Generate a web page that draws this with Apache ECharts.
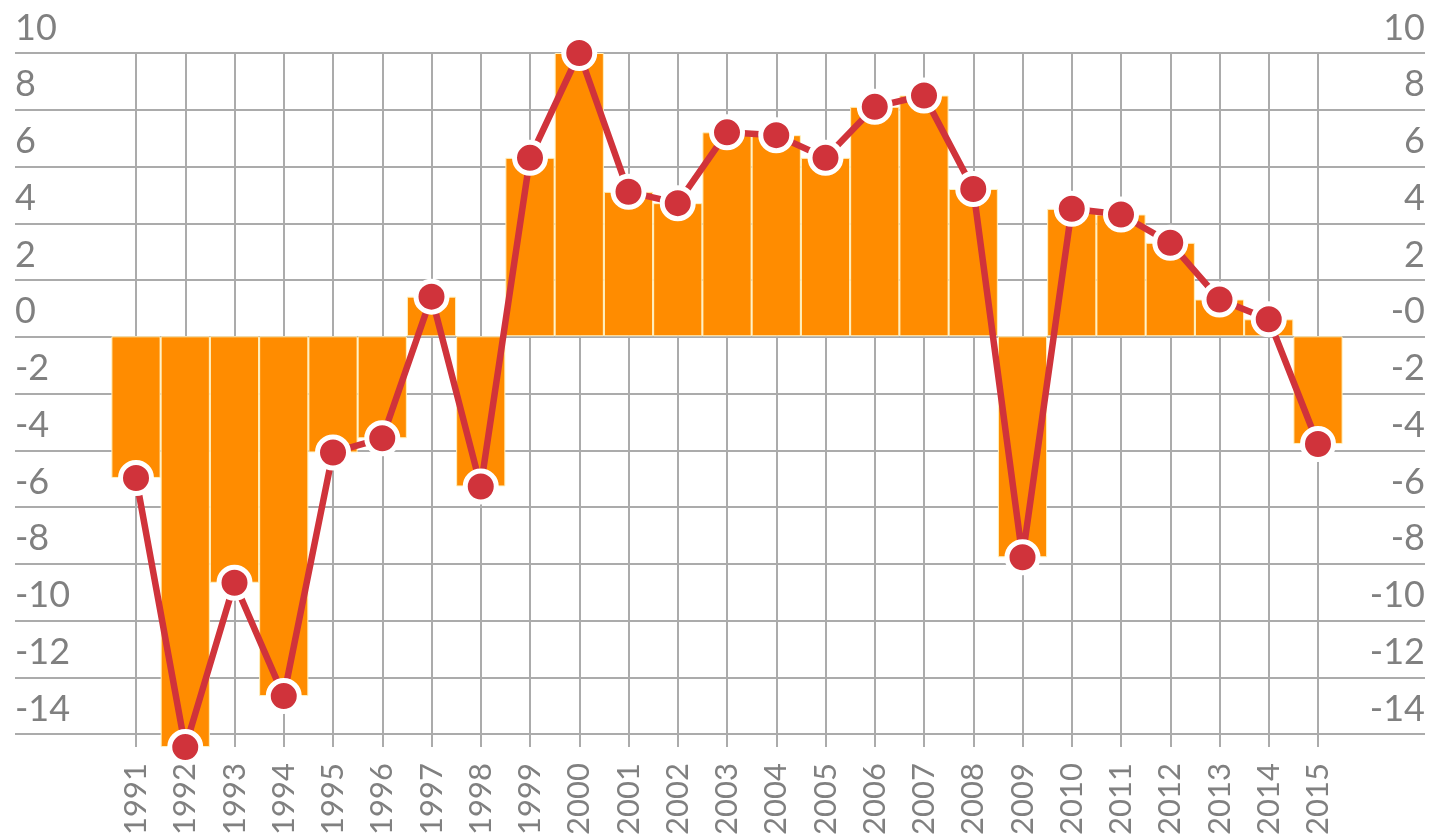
<!DOCTYPE html>
<html>
<head>
<meta charset="utf-8">
<script src="https://cdn.jsdelivr.net/npm/echarts@6/dist/echarts.min.js"></script>
<style>
html,body{margin:0;padding:0;background:#fff;}
#chart{width:1432px;height:838px;}
</style>
</head>
<body>
<div id="chart"></div>
<script>
const years = ['1991','1992','1993','1994','1995','1996','1997','1998','1999','2000','2001','2002','2003','2004','2005','2006','2007','2008','2009','2010','2011','2012','2013','2014','2015'];
const values = [-5.0,-14.5,-8.7,-12.7,-4.1,-3.6,1.4,-5.3,6.3,10.0,5.1,4.7,7.2,7.1,6.3,8.1,8.5,5.2,-7.8,4.5,4.3,3.3,1.3,0.6,-3.8];
const yMin = -14, yMax = 10, yStep = 2;
const dataMin = -14.5;

const chart = echarts.init(document.getElementById('chart'), null, {renderer:'canvas'});
const gridColor = '#ababab';
const labelColor = '#808080';
const font = 'Lato';

chart.setOption({
  animation: false,
  backgroundColor: '#ffffff',
  grid: [
    {left: 15, right: 7, top: 53, bottom: 104, containLabel: false},
    {left: 136, right: 114, top: 53, bottom: 89.8, containLabel: false}
  ],
  xAxis: [
    {gridIndex: 0, type: 'category', data: years, show: false},
    {gridIndex: 1, type: 'category', data: years, boundaryGap: false,
     axisLine: {show: false}, axisTick: {show: false},
     splitLine: {show: true, lineStyle: {color: gridColor, width: 2}},
     axisLabel: {rotate: 90, margin: 16, fontFamily: font, fontSize: 31, color: labelColor}}
  ],
  yAxis: [
    {gridIndex: 0, type: 'value', min: yMin, max: yMax, interval: yStep, position: 'left',
     axisLine: {show: false}, axisTick: {show: false},
     splitLine: {show: true, lineStyle: {color: gridColor, width: 2}},
     axisLabel: {inside: true, align: 'left', verticalAlign: 'bottom', margin: 0, lineHeight: 36,
                 padding: [0, 0, 7, 0],
                 fontFamily: font, fontSize: 36, color: labelColor}},
    {gridIndex: 0, type: 'value', min: yMin, max: yMax, interval: yStep, position: 'right',
     axisLine: {show: false}, axisTick: {show: false}, splitLine: {show: false},
     axisLabel: {inside: true, align: 'right', verticalAlign: 'bottom', margin: 0, lineHeight: 36,
                 padding: [0, 0, 7, 0],
                 fontFamily: font, fontSize: 36, color: labelColor,
                 formatter: v => (v === 0 ? '-0' : String(v))}},
    {gridIndex: 1, type: 'value', min: dataMin, max: yMax, show: false}
  ],
  series: [
    {type: 'bar', xAxisIndex: 1, yAxisIndex: 2, data: values, barWidth: 49.2, clip: false,
     itemStyle: {color: '#ff8c00', borderColor: '#fff1bf', borderWidth: 1}},
    {type: 'line', xAxisIndex: 1, yAxisIndex: 2, data: values, clip: false,
     symbol: 'circle', symbolSize: 31,
     lineStyle: {color: '#d0333b', width: 6.5},
     itemStyle: {color: '#d0333b', borderColor: '#ffffff', borderWidth: 5}}
  ]
});
</script>
</body>
</html>
